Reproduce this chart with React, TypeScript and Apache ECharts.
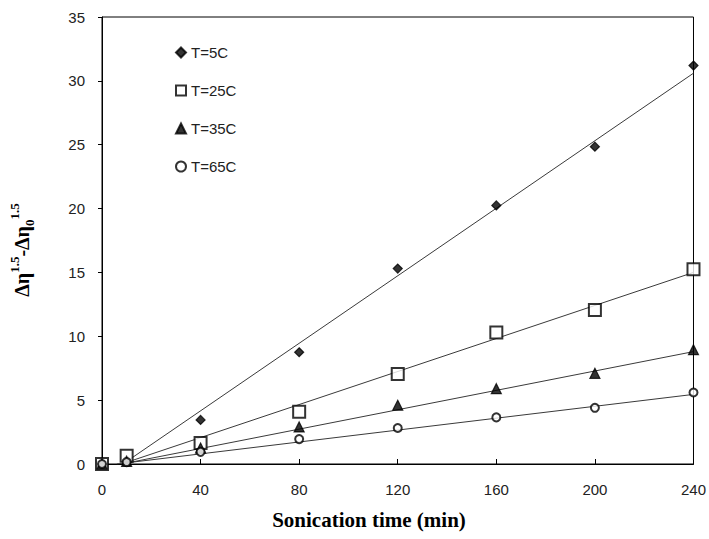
import React, { useEffect, useRef } from "react";
import * as echarts from "echarts";

const times = [0, 10, 40, 80, 120, 160, 200, 240];
const seriesNames = ["T=5C", "T=25C", "T=35C", "T=65C"];
const t5 = [0, 0.3, 3.45, 8.75, 15.3, 20.25, 24.85, 31.2];
const t25 = [0, 0.65, 1.65, 4.1, 7.05, 10.3, 12.05, 15.25];
const t35 = [0, 0.2, 1.25, 2.9, 4.6, 5.9, 7.1, 8.95];
const t65 = [0, 0.15, 0.95, 1.95, 2.82, 3.65, 4.4, 5.6];
// trend line end points: [startX, startY, endX, endY]
const trend5 = [8.5, 0, 240, 30.6];
const trend25 = [8, 0, 240, 15.0];
const trend35 = [8, 0, 240, 8.8];
const trend65 = [6, 0, 240, 5.45];

const xTicks = { min: 0, max: 240, interval: 40 };
const yTicks = { min: 0, max: 35, interval: 5 };

export default function App() {
  const ref = useRef<HTMLDivElement>(null);
  useEffect(() => {
    if (!ref.current) return;
    const chart = echarts.init(ref.current, null, { renderer: "svg" });
    const values = [t5, t25, t35, t65];
    const trends = [trend5, trend25, trend35, trend65];
    const symbols = ["diamond", "emptyRect", "triangle", "emptyCircle"];
    const sizes = [9, 12, 10, 8];
    const scatter = values.map((v, i) => ({
      type: "scatter",
      name: seriesNames[i],
      data: times.map((t, j) => [t, v[j]]),
      symbol: symbols[i],
      symbolSize: sizes[i],
      itemStyle: { color: "#000", borderColor: "#000", borderWidth: 1.2 },
      z: 5,
    }));
    const lines = trends.map((tr, i) => ({
      type: "line",
      name: "trend" + i,
      data: [
        [tr[0], tr[1]],
        [tr[2], tr[3]],
      ],
      symbol: "none",
      lineStyle: { color: "#3a3a3a", width: 1 },
      silent: true,
      z: 3,
    }));
    const font = "'Liberation Sans', Arial, sans-serif";
    const serif = "'Liberation Serif', 'Times New Roman', serif";
    chart.setOption({
      animation: false,
      backgroundColor: "#fff",
      grid: {
        left: 102,
        right: 13,
        top: 17,
        bottom: 75,
        show: true,
        borderColor: "#000",
        borderWidth: 1,
      },
      legend: {
        data: seriesNames,
        orient: "vertical",
        left: 170,
        top: 40,
        itemWidth: 10,
        itemHeight: 10,
        itemGap: 23,
        textStyle: { fontFamily: font, fontSize: 15, color: "#222" },
        selectedMode: false,
      },
      xAxis: {
        type: "value",
        min: xTicks.min,
        max: xTicks.max,
        interval: xTicks.interval,
        splitLine: { show: false },
        axisLine: { show: true, lineStyle: { color: "#000", width: 1 } },
        axisTick: { show: true, inside: true, length: 5, lineStyle: { color: "#000" } },
        axisLabel: { fontFamily: font, fontSize: 15, color: "#222", margin: 18 },
      },
      yAxis: {
        type: "value",
        min: yTicks.min,
        max: yTicks.max,
        interval: yTicks.interval,
        splitLine: { show: false },
        axisLine: { show: true, lineStyle: { color: "#000", width: 1 } },
        axisTick: { show: true, length: 4, lineStyle: { color: "#000" } },
        axisLabel: { fontFamily: font, fontSize: 15, color: "#222", margin: 17 },
      },
      graphic: [
        {
          type: "text",
          x: 369,
          y: 520,
          style: {
            text: "Sonication time (min)",
            fontFamily: serif,
            fontWeight: "bold",
            fontSize: 21,
            fill: "#000",
            align: "center",
            verticalAlign: "middle",
          },
        },
        {
          type: "text",
          x: 22,
          y: 250,
          rotation: Math.PI / 2,
          style: {
            text: "{a|Δη}{s|1.5}{a|-Δη}{b|0}{s|1.5}",
            align: "center",
            verticalAlign: "middle",
            fill: "#000",
            rich: {
              a: { fontFamily: serif, fontWeight: "bold", fontSize: 20, lineHeight: 28, verticalAlign: "middle" },
              s: { fontFamily: serif, fontWeight: "bold", fontSize: 13, lineHeight: 28, verticalAlign: "top" },
              b: { fontFamily: serif, fontWeight: "bold", fontSize: 13, lineHeight: 28, verticalAlign: "bottom" },
            },
          },
        },
      ],
      series: [...lines, ...scatter],
    });
    return () => chart.dispose();
  }, []);
  return <div ref={ref} style={{ width: 709, height: 539, position: "absolute", left: 0, top: 0 }} />;
}
